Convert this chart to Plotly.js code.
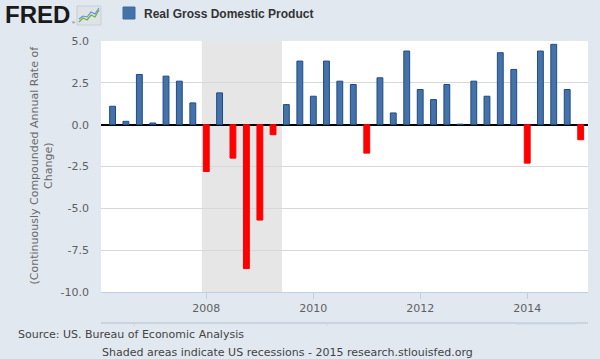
<!DOCTYPE html>
<html>
<head>
<meta charset="utf-8">
<script src="https://cdn.plot.ly/plotly-3.0.1.min.js"></script>
<style>
html,body{margin:0;padding:0;background:#e1e8f0;}
#chart{width:600px;height:359px;}
</style>
</head>
<body>
<div id="chart"></div>
<script>
// ---- data ----
var quarters = ['2006-04-01','2006-07-01','2006-10-01',
  '2007-01-01','2007-04-01','2007-07-01','2007-10-01',
  '2008-01-01','2008-04-01','2008-07-01','2008-10-01',
  '2009-01-01','2009-04-01','2009-07-01','2009-10-01',
  '2010-01-01','2010-04-01','2010-07-01','2010-10-01',
  '2011-01-01','2011-04-01','2011-07-01','2011-10-01',
  '2012-01-01','2012-04-01','2012-07-01','2012-10-01',
  '2013-01-01','2013-04-01','2013-07-01','2013-10-01',
  '2014-01-01','2014-04-01','2014-07-01','2014-10-01',
  '2015-01-01'];
var gdpGrowth = [1.1, 0.2, 3.0,
  0.1, 2.9, 2.6, 1.3,
  -2.8, 1.9, -2.0, -8.6,
  -5.7, -0.6, 1.2, 3.8,
  1.7, 3.8, 2.6, 2.4,
  -1.7, 2.8, 0.7, 4.4,
  2.1, 1.5, 2.4, 0.03,
  2.6, 1.7, 4.3, 3.3,
  -2.3, 4.4, 4.8, 2.1,
  -0.9];
var recessionStart = '2007-12-01';
var recessionEnd = '2009-06-01';
var yTicks = [-10, -7.5, -5, -2.5, 0, 2.5, 5];
var yTickLabels = ['-10.0', '-7.5', '-5.0', '-2.5', '0.0', '2.5', '5.0'];
var xTicks = ['2008-01-01', '2010-01-01', '2012-01-01', '2014-01-01'];
var xTickLabels = ['2008', '2010', '2012', '2014'];
var seriesName = 'Real Gross Domestic Product';
var yTitle = '(Continuously Compounded Annual Rate of<br>Change)';
var sourceText = 'Source: US. Bureau of Economic Analysis';
var noteText = 'Shaded areas indicate US recessions - 2015 research.stlouisfed.org';

// ---- styling ----
var BLUE = '#4572a7', BLUE_EDGE = '#1d4b8a', RED = '#ff0000';
var L = 101, R = 588, T = 41, B = 292;
function px(x){ return (x - L) / (R - L); }
function py(y){ return (B - y) / (B - T); }
function path(pts){
  return pts.map(function(p, i){ return (i ? 'L' : 'M') + px(p[0]).toFixed(4) + ',' + py(p[1]).toFixed(4); }).join(' ');
}

var colors = gdpGrowth.map(function(v){ return v < 0 ? RED : BLUE; });
var edges = gdpGrowth.map(function(v){ return v < 0 ? RED : BLUE_EDGE; });

var trace = {
  type: 'bar',
  x: quarters,
  y: gdpGrowth,
  name: seriesName,
  width: 40 * 86400000,
  marker: { color: colors, line: { color: edges, width: 1 } },
  showlegend: false,
  hoverinfo: 'x+y'
};

var font = 'DejaVu Sans, Verdana, sans-serif';

var layout = {
  width: 600, height: 359,
  margin: { l: L, r: 600 - R, t: T, b: 359 - B, pad: 0 },
  paper_bgcolor: '#e1e8f0',
  plot_bgcolor: '#ffffff',
  bargap: 0,
  font: { family: font, size: 11, color: '#666666' },
  xaxis: {
    type: 'date',
    range: ['2006-01-12', '2015-02-20'],
    tickvals: xTicks,
    ticktext: xTickLabels,
    showgrid: false,
    zeroline: false,
    showline: true,
    linecolor: '#c0d0e0',
    linewidth: 1,
    ticks: 'outside',
    ticklen: 6,
    tickcolor: '#c0d0e0',
    tickfont: { family: font, size: 11, color: '#606060' },
    fixedrange: true
  },
  yaxis: {
    range: [-10, 5],
    tickvals: yTicks,
    ticktext: yTickLabels,
    showgrid: true,
    gridcolor: '#d8d8d8',
    gridwidth: 1,
    zeroline: true,
    zerolinecolor: '#000000',
    zerolinewidth: 2,
    showline: false,
    ticks: '',
    ticklabelstandoff: 11,
    tickfont: { family: font, size: 11, color: '#606060' },
    fixedrange: true
  },
  shapes: [
    { type: 'rect', xref: 'x', yref: 'paper', x0: recessionStart, x1: recessionEnd, y0: 0, y1: 1,
      fillcolor: '#e6e6e6', line: { width: 0 }, layer: 'below' },
    // navigator line below axis
    { type: 'line', xref: 'paper', yref: 'paper', x0: 0, x1: 1, y0: py(323), y1: py(323),
      line: { color: '#b4c0cc', width: 1 } },
    { type: 'line', xref: 'paper', yref: 'paper', x0: px(516), x1: px(576), y0: py(323.5), y1: py(323.5),
      line: { color: '#c6d6ea', width: 2 } },
    { type: 'line', xref: 'paper', yref: 'paper', x0: px(134), x1: px(134), y0: py(323), y1: py(326),
      line: { color: '#c6d6ea', width: 1 } },
    { type: 'line', xref: 'paper', yref: 'paper', x0: px(327), x1: px(327), y0: py(323), y1: py(326),
      line: { color: '#c6d6ea', width: 1 } },
    // legend swatch
    { type: 'rect', xref: 'paper', yref: 'paper', x0: px(123), x1: px(135), y0: py(19), y1: py(7),
      fillcolor: BLUE, line: { color: '#3f6aa0', width: 1 } },
    // FRED icon
    { type: 'rect', xref: 'paper', yref: 'paper', x0: px(77), x1: px(101), y0: py(25), y1: py(6),
      fillcolor: '#dfe3e8', line: { color: '#c8ced6', width: 1 } },
    { type: 'path', xref: 'paper', yref: 'paper',
      path: path([[79,22],[83,18],[87,20],[91,15],[95,17],[99,10]]),
      line: { color: '#6cb33f', width: 1.3 } },
    { type: 'path', xref: 'paper', yref: 'paper',
      path: path([[79,19],[83,16],[87,17],[91,12],[95,14],[99,8]]),
      line: { color: '#5b8fd6', width: 1.1 } }
  ],
  annotations: [
    { text: yTitle, xref: 'paper', yref: 'paper', x: px(41), y: py(165.5), xanchor: 'center', yanchor: 'middle',
      textangle: -90, showarrow: false, font: { family: font, size: 11, color: '#6a6a6a' } },
    { text: '<b>FRED</b>', xref: 'paper', yref: 'paper', x: px(3), y: py(14.5), xanchor: 'left', yanchor: 'middle',
      showarrow: false, font: { family: 'Liberation Sans, Arial, sans-serif', size: 24, color: '#1a1a1a' } },
    { text: '®', xref: 'paper', yref: 'paper', x: px(70.5), y: py(22), xanchor: 'left', yanchor: 'middle',
      showarrow: false, borderpad: 0, font: { family: 'Liberation Sans, Arial, sans-serif', size: 4, color: '#333333' } },
    { text: '<b>' + seriesName + '</b>', xref: 'paper', yref: 'paper', x: px(142), y: py(13.5), xanchor: 'left', yanchor: 'middle',
      showarrow: false, font: { family: 'Liberation Sans, Arial, sans-serif', size: 12, color: '#333333' } },
    { text: sourceText, xref: 'paper', yref: 'paper', x: px(16), y: py(334), xanchor: 'left', yanchor: 'middle',
      showarrow: false, font: { family: font, size: 11, color: '#444444' } },
    { text: noteText, xref: 'paper', yref: 'paper', x: px(100), y: py(352), xanchor: 'left', yanchor: 'middle',
      showarrow: false, font: { family: font, size: 11, color: '#444444' } }
  ]
};

Plotly.newPlot('chart', [trace], layout, { staticPlot: true, displayModeBar: false });
</script>
</body>
</html>
